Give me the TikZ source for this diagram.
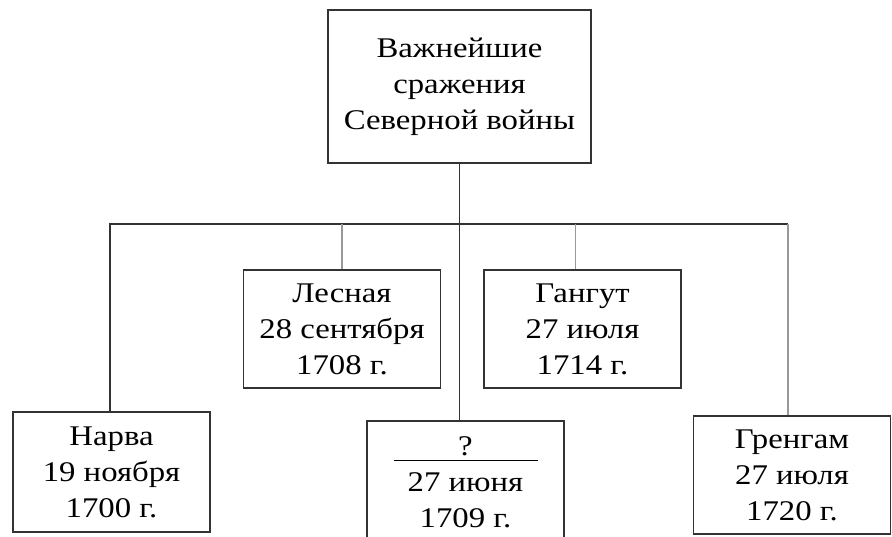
\documentclass[tikz,border=0pt]{standalone}
\usepackage{fontspec}
\setmainfont{Liberation Serif}[FakeStretch=1.15]
\usetikzlibrary{positioning}

\begin{document}
\begin{tikzpicture}[x=1pt, y=-1pt,
    font=\fontsize{28.5}{36}\selectfont,
box/.style = {draw=black!80, line width=1.7pt, minimum width=197pt,
              minimum height=118pt, align=center, inner sep=0pt},
dark/.style = {draw=black!80, line width=1.6pt},
lite/.style = {draw=black!40, line width=1.6pt},
sx-/.style  = {xshift=-7pt}
                        ]
\useasboundingbox (0,0) rectangle (892,536);
\node (root) [box, minimum width=263pt, minimum height=153pt] at (459.5,86.5)
      {Важнейшие\\ сражения\\ Северной войны};
\node (narva)   [box, minimum height=120pt] at (111.5,472)
      {Нарва\\ 19 ноября\\ 1700 г.};
\node (lesnaya) [box] at (342,329) {Лесная\\ 28 сентября\\ 1708 г.};
\node (gangut)  [box] at (582.5,329) {Гангут\\ 27 июля\\ 1714 г.};
\node (poltava) [box, minimum height=122pt] at (465.5,482)
      {\makebox[144pt]{?}\llap{\rule[-6pt]{144pt}{1.5pt}}\\ 27 июня\\ 1709 г.};
\node (grengam) [box] at (792,475) {Гренгам\\ 27 июля\\ 1720 г.};
\coordinate (bus) at (0,224);
%
\draw[dark] (root.south) -- (root.south |- poltava.north);
\draw[dark] (narva.north -| 110,0) |- (bus -| 788,0);
\draw[lite] (grengam.north -| 788,0) -- (bus -| 788,0);
\draw[lite] (lesnaya.north) -- (lesnaya.north |- bus);
\draw[lite] ([sx-] gangut.north) -- ([sx-] gangut.north |- bus);
    \end{tikzpicture}
\end{document}
